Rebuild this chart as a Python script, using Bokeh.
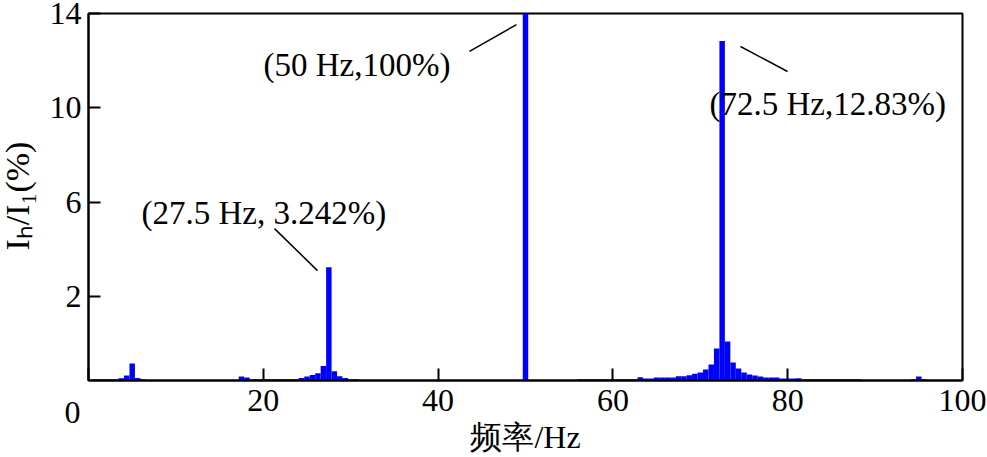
import math
from bokeh.plotting import figure
from bokeh.models import Range1d, FixedTicker, Label, ColumnDataSource
from bokeh.embed import file_html
from bokeh.resources import INLINE

# ---------------- data ----------------
# spectrum bins (Hz) and bar tops in axis units of I_h/I_1 (%)
freq_hz = [
    0.625, 1.25, 1.875, 2.5, 3.125, 3.75, 4.375, 5.0, 5.625, 6.25,
    17.5, 18.125, 18.75, 19.375, 20.0, 20.625, 21.25, 21.875, 22.5, 23.125, 23.75,
    24.375, 25.0, 25.625, 26.25, 26.875, 27.5, 28.125, 28.75, 29.375, 30.0, 30.625,
    50.0,
    56.25, 56.875, 57.5, 58.125, 58.75, 59.375, 60.0, 60.625, 61.25, 61.875, 62.5,
    63.125, 63.75, 64.375, 65.0, 65.625, 66.25, 66.875, 67.5, 68.125, 68.75,
    69.375, 70.0, 70.625, 71.25, 71.875, 72.5, 73.125, 73.75, 74.375, 75.0,
    75.625, 76.25, 76.875, 77.5, 78.125, 78.75, 79.375, 80.0, 80.625, 81.25,
    81.875, 82.5, 83.125, 83.75, 84.375, 85.0, 85.625, 86.25, 86.875, 87.5, 88.125,
    94.375, 95.0, 95.625,
]
ratio_pct = [
    -1.505, -1.505, -1.505, -1.505, -1.505, -1.462, -1.348, -0.839, -1.454, -1.505,
    -1.39, -1.433, -1.505, -1.505, -1.505, -1.505, -1.505, -1.505, -1.505, -1.505, -1.505,
    -1.45, -1.39, -1.323, -1.25, -0.941, 3.242, -1.166, -1.378, -1.45, -1.505, -1.505,
    100.0,
    -1.505, -1.505, -1.505, -1.505, -1.505, -1.505, -1.505, -1.505, -1.505, -1.505, -1.505,
    -1.42, -1.475, -1.475, -1.433, -1.433, -1.433, -1.433, -1.378, -1.378, -1.335,
    -1.276, -1.221, -1.094, -0.881, -0.203, 12.83, 0.094, -0.797, -1.051, -1.221,
    -1.306, -1.348, -1.39, -1.433, -1.433, -1.433, -1.475, -1.475, -1.475, -1.462,
    -1.505, -1.505, -1.505, -1.505, -1.505, -1.505, -1.505, -1.505, -1.505, -1.505, -1.505,
    -1.505, -1.39, -1.505,
]
bin_width_hz = 0.625

x_ticks = [0, 20, 40, 60, 80, 100]
y_ticks = [2, 6, 10, 14]

x_title = "频率/Hz"
y_title = "Iₕ/I₁(%)"
peak_labels = ["(50 Hz,100%)", "(72.5 Hz,12.83%)", "(27.5 Hz, 3.242%)"]

# ---------------- layout / style ----------------
Y_FLOOR = -1.56
SERIF = "Liberation Serif"
BLUE = "#0000FF"

src = ColumnDataSource(dict(
    f=freq_hz,
    top=ratio_pct,
    bottom=[Y_FLOOR] * len(freq_hz),
))

p = figure(
    width=987, height=457,
    output_backend="svg", toolbar_location=None,
    x_range=Range1d(0, 100), y_range=Range1d(Y_FLOOR, 14),
    min_border_left=88, min_border_right=25,
    min_border_top=13, min_border_bottom=77,
)
p.background_fill_color = "white"
p.border_fill_color = None
p.outline_line_color = "black"
p.outline_line_width = 2
p.xgrid.visible = False
p.ygrid.visible = False

p.vbar(x="f", width=bin_width_hz, top="top", bottom="bottom", source=src,
       fill_color=BLUE, line_color=None)

for ax in (p.xaxis[0], p.yaxis[0]):
    ax.axis_line_color = "black"
    ax.axis_line_width = 2
    ax.major_tick_line_color = "black"
    ax.major_tick_line_width = 2
    ax.major_tick_in = 12
    ax.major_tick_out = 0
    ax.minor_tick_line_color = None
    ax.major_label_text_font = SERIF
    ax.major_label_text_font_size = "32px"
    ax.major_label_text_color = "black"

p.xaxis[0].ticker = FixedTicker(ticks=x_ticks)
p.xaxis[0].major_label_overrides = {0: ""}
p.xaxis[0].major_label_standoff = 9
p.xaxis[0].axis_label = x_title
p.xaxis[0].axis_label_text_font = SERIF
p.xaxis[0].axis_label_text_font_size = "32px"
p.xaxis[0].axis_label_text_font_style = "normal"
p.xaxis[0].axis_label_text_color = "black"
p.xaxis[0].axis_label_standoff = 5

p.yaxis[0].ticker = FixedTicker(ticks=y_ticks)
p.yaxis[0].major_label_standoff = 7

# texts outside the frame: placed in side panels (not clipped), canvas coordinates
# shared corner "0"
p.add_layout(Label(x=72, y=412, x_units="canvas", y_units="canvas", text=str(x_ticks[0]),
                   text_font=SERIF, text_font_size="32px", text_align="center",
                   text_baseline="alphabetic", text_color="black", level="overlay"), "right")

# y-axis title, rotated
p.add_layout(Label(x=17, y=250, x_units="canvas", y_units="canvas", text=y_title,
                   angle=math.pi / 2, text_font=SERIF, text_font_size="34px",
                   text_align="left", text_baseline="alphabetic", text_color="black",
                   level="overlay"), "left")

# peak annotations (text + leader lines), in data coordinates
label_pos = [(20.02, 11.80), (71.05, 10.18), (6.06, 5.56)]
for txt, (lx, ly) in zip(peak_labels, label_pos):
    p.add_layout(Label(x=lx, y=ly, text=txt, text_font=SERIF, text_font_size="33px",
                       text_align="left", text_baseline="alphabetic", text_color="black"))

p.segment(x0=[43.59, 74.6, 21.28], y0=[12.39, 12.60, 4.88],
          x1=[48.97, 79.98, 26.2], y1=[13.53, 11.54, 3.10],
          line_color="black", line_width=1.5)

open("out.html", "w").write(file_html(p, INLINE))
